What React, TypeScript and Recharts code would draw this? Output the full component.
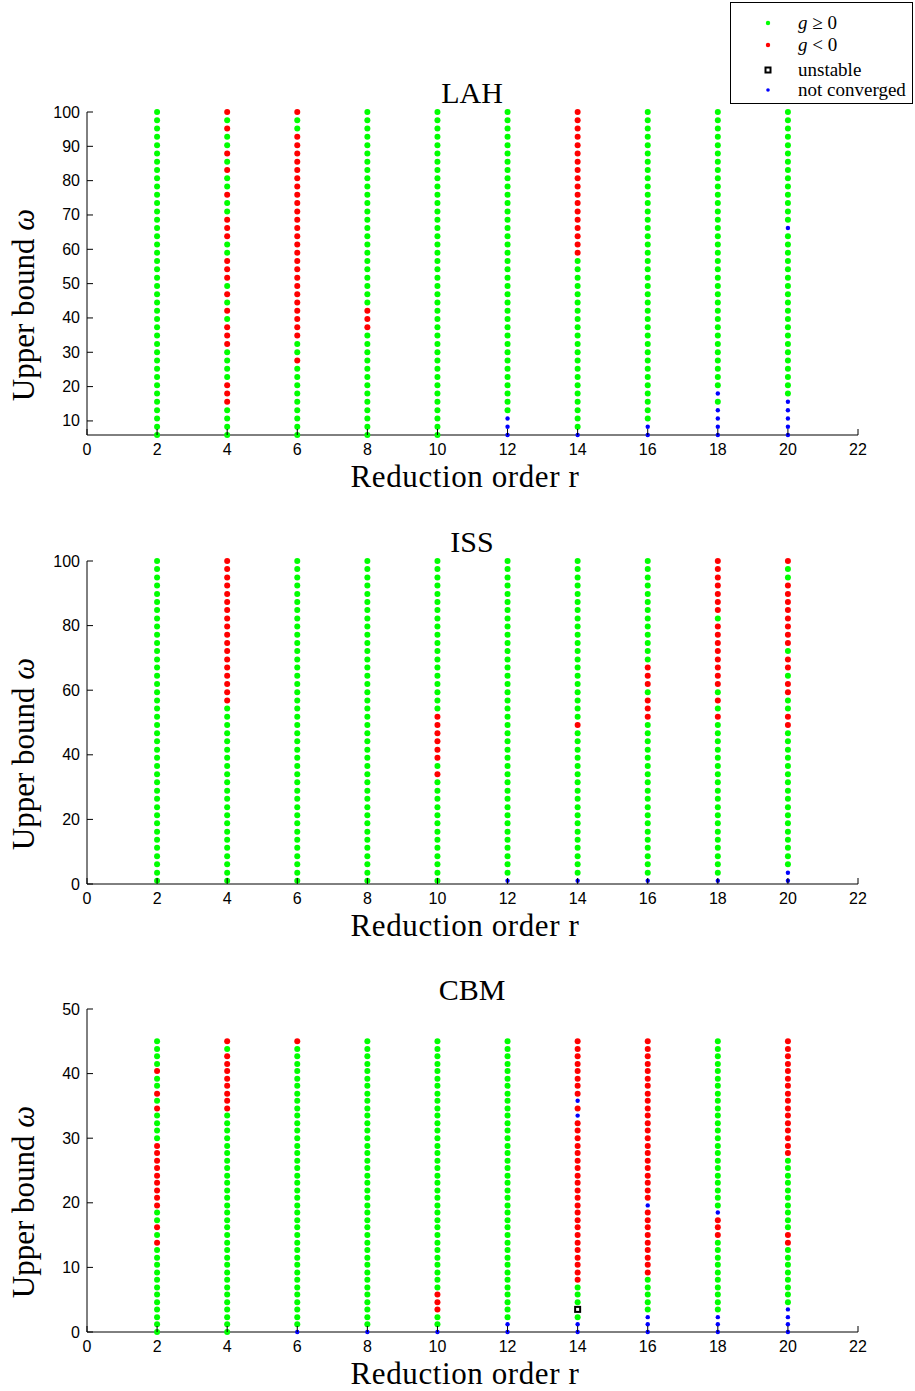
import React from 'react';
import { ScatterChart, Scatter, XAxis, YAxis } from 'recharts';

// x positions (reduction order r) and axis ticks
const R_ORDERS = [2, 4, 6, 8, 10, 12, 14, 16, 18, 20];
const X_TICKS = [0, 2, 4, 6, 8, 10, 12, 14, 16, 18, 20, 22];

// omega grids, top (largest) to bottom
const LAH_OMEGA = [
  100.0, 97.6, 95.2, 92.8, 90.3, 87.9, 85.5, 83.1, 80.7, 78.3,
  75.9, 73.5, 71.0, 68.6, 66.2, 63.8, 61.4, 59.0, 56.6, 54.2,
  51.7, 49.3, 46.9, 44.5, 42.1, 39.7, 37.3, 34.9, 32.4, 30.0,
  27.6, 25.2, 22.8, 20.4, 18.0, 15.6, 13.1, 10.7, 8.3, 5.9,
];
const ISS_OMEGA = [
  100.0, 97.5, 94.9, 92.4, 89.8, 87.3, 84.8, 82.2, 79.7, 77.2,
  74.6, 72.1, 69.5, 67.0, 64.5, 61.9, 59.4, 56.8, 54.3, 51.8,
  49.2, 46.7, 44.2, 41.6, 39.1, 36.5, 34.0, 31.5, 28.9, 26.4,
  23.8, 21.3, 18.8, 16.2, 13.7, 11.2, 8.6, 6.1, 3.5, 1.0,
];
const CBM_OMEGA = [
  45.0, 43.8, 42.7, 41.5, 40.4, 39.2, 38.1, 36.9, 35.8, 34.6,
  33.5, 32.3, 31.2, 30.0, 28.8, 27.7, 26.5, 25.4, 24.2, 23.1,
  21.9, 20.8, 19.6, 18.5, 17.3, 16.2, 15.0, 13.8, 12.7, 11.5,
  10.4, 9.2, 8.1, 6.9, 5.8, 4.6, 3.5, 2.3, 1.2, 0.0,
];

// status per column (r = 2..20), top to bottom
// G: g >= 0, R: g < 0, U: unstable, B: not converged
const LAH_STATUS = [
  'GGGGGGGGGG GGGGGGGGGG GGGGGGGGGG GGGGGGGGGG',
  'RGRGGRGRGG RGGRRRGGRR RGRGRGRRRG GGGRRRGGGG',
  'RGGRRRRRRR RRRRRRRRRR RRRRRRRRGG RGGGGGGGGG',
  'GGGGGGGGGG GGGGGGGGGG GGGGRRRGGG GGGGGGGGGG',
  'GGGGGGGGGG GGGGGGGGGG GGGGGGGGGG GGGGGGGGGG',
  'GGGGGGGGGG GGGGGGGGGG GGGGGGGGGG GGGGGGGBBB',
  'RRRRRRRRRR RRRRRRRRGG GGGGGGGGGG GGGGGGGGGB',
  'GGGGGGGGGG GGGGGGGGGG GGGGGGGGGG GGGGGGGGBB',
  'GGGGGGGGGG GGGGGGGGGG GGGGGGGGGG GGGGBGBBBB',
  'GGGGGGGGGG GGGGBGGGGG GGGGGGGGGG GGGGGBBBBB',
];
const ISS_STATUS = [
  'GGGGGGGGGG GGGGGGGGGG GGGGGGGGGG GGGGGGGGGG',
  'RRRRRRRRRR RRRRRRRRGG GGGGGGGGGG GGGGGGGGGG',
  'GGGGGGGGGG GGGGGGGGGG GGGGGGGGGG GGGGGGGGGG',
  'GGGGGGGGGG GGGGGGGGGG GGGGGGGGGG GGGGGGGGGG',
  'GGGGGGGGGG GGGGGGGGGR RRRRRGRGGG GGGGGGGGGG',
  'GGGGGGGGGG GGGGGGGGGG GGGGGGGGGG GGGGGGGGGB',
  'GGGGGGGGGG GGGGGGGGGG RGGGGGGGGG GGGGGGGGGB',
  'GGGGGGGGGG GGGRRRGRRR GGGGGGGGGG GGGGGGGGGB',
  'RRRRRRRGRR RRRRRRGRGR GGGGGGGGGG GGGGGGGGGB',
  'RGGRRRRRRR RGRRGRRGGR RGGGGGGGGG GGGGGGGGBB',
];
const CBM_STATUS = [
  'GGGGRGGRGR GGGGRRRRRR RRRGGRGRGG GGGGGGGGGG',
  'RGRRRRRRRR GGGGGGGGGG GGGGGGGGGG GGGGGGGGGG',
  'RGGGGGGGGG GGGGGGGGGG GGGGGGGGGG GGGGGGGGGB',
  'GGGGGGGGGG GGGGGGGGGG GGGGGGGGGG GGGGGGGGGB',
  'GGGGGGGGGG GGGGGGGGGG GGGGGGGGGG GGGGRRRGGB',
  'GGGGGGGGGG GGGGGGGGGG GGGGGGGGGG GGGGGGGGBB',
  'RRRRRRRRBR BRRRRRRRRR RRRRRRRRRR RRRGGGUGBB',
  'RRRRRRRRRR RRRRRRRRRR RRBRRRRRRR RRGGGGGBBB',
  'GGGGGGGGGG GGGGGGGGGG GGGBRRRGGG GGGGGGGBBB',
  'RRRRRRRRRR RRRRRRGGGG GGGGGGRRGG GGGGGGBBBB',
];

const LAH_TICKS = [10, 20, 30, 40, 50, 60, 70, 80, 90, 100];
const ISS_TICKS = [0, 20, 40, 60, 80, 100];
const CBM_TICKS = [0, 10, 20, 30, 40, 50];

const SERIF = '"Liberation Serif", "Times New Roman", serif';
const SANS = '"Liberation Sans", Arial, sans-serif';

const XTick = (props: any) => {
  const { x, y, payload } = props;
  return (
    <g>
      <line x1={x} x2={x} y1={y} y2={y - 6} stroke="#000" />
      <text x={x} y={y + 20} textAnchor="middle" fontFamily={SANS} fontSize={16} fill="#000">
        {payload.value}
      </text>
    </g>
  );
};

const YTick = (props: any) => {
  const { x, y, payload } = props;
  return (
    <g>
      <line x1={x} x2={x + 6} y1={y} y2={y} stroke="#000" />
      <text x={x - 7} y={y + 5.5} textAnchor="end" fontFamily={SANS} fontSize={16} fill="#000">
        {payload.value}
      </text>
    </g>
  );
};

const dot = (color: string, r: number) => (p: any) => (
  <circle cx={p.cx} cy={p.cy} r={r} fill={color} />
);
const square = (p: any) => (
  <rect x={p.cx - 2.5} y={p.cy - 2.5} width={5} height={5} fill="#fff" stroke="#000" strokeWidth={2} />
);

interface PanelProps {
  title: string;
  omega: number[];
  status: string[];
  yDomain: [number, number];
  yTicks: number[];
  top: number;
}

const Panel = ({ title, omega, status, yDomain, yTicks, top }: PanelProps) => {
  const series: Record<string, { r: number; w: number }[]> = { G: [], R: [], U: [], B: [] };
  R_ORDERS.forEach((r, c) => {
    const s = status[c].replace(/ /g, '');
    omega.forEach((w, i) => series[s[i]].push({ r, w }));
  });

  return (
    <div style={{ position: 'absolute', left: 0, top }}>
      <ScatterChart width={915} height={500} margin={{ top: 112, right: 57, bottom: 25, left: 37 }}>
        <XAxis
          type="number"
          dataKey="r"
          domain={[0, 22]}
          ticks={X_TICKS}
          interval={0}
          tickSize={0}
          tickMargin={0}
          tick={(p: any) => <XTick {...p} />}
          height={40}
          stroke="#000"
        />
        <YAxis
          type="number"
          dataKey="w"
          domain={yDomain}
          ticks={yTicks}
          interval={0}
          tickSize={0}
          tickMargin={0}
          tick={(p: any) => <YTick {...p} />}
          width={50}
          stroke="#000"
        />
        <Scatter data={series.G} shape={dot('#00ff00', 3)} isAnimationActive={false} />
        <Scatter data={series.R} shape={dot('#ff0000', 3)} isAnimationActive={false} />
        <Scatter data={series.U} shape={square} isAnimationActive={false} />
        <Scatter data={series.B} shape={dot('#0000ff', 2.2)} isAnimationActive={false} />
        <text x={472} y={103} textAnchor="middle" fontFamily={SERIF} fontSize={30} fill="#000">
          {title}
        </text>
        <text
          x={465}
          y={487}
          textAnchor="middle"
          fontFamily={SERIF}
          fontSize={31}
          letterSpacing={0.6}
          fill="#000"
        >
          Reduction order r
        </text>
        <text
          x={34}
          y={305}
          transform="rotate(-90 34 305)"
          textAnchor="middle"
          fontFamily={SERIF}
          fontSize={31}
          fill="#000"
        >
          Upper bound <tspan fontStyle="italic">ω</tspan>
        </text>
      </ScatterChart>
    </div>
  );
};

const LegendBox = () => {
  const rows = [
    { y: 22, marker: <circle cx={6} cy={6} r={2.2} fill="#00ff00" />, label: <><i>g</i> ≥ 0</> },
    { y: 44, marker: <circle cx={6} cy={6} r={2.2} fill="#ff0000" />, label: <><i>g</i> &lt; 0</> },
    {
      y: 69,
      marker: <rect x={3.5} y={3.5} width={5} height={5} fill="#fff" stroke="#000" strokeWidth={2} />,
      label: <>unstable</>,
    },
    { y: 89, marker: <circle cx={6} cy={6} r={1.8} fill="#0000ff" />, label: <>not converged</> },
  ];
  return (
    <div
      style={{
        position: 'absolute',
        left: 730,
        top: 2,
        width: 181,
        height: 100,
        border: '1px solid #000',
        background: '#fff',
      }}
    >
      {rows.map((row, i) => (
        <div key={i} style={{ position: 'absolute', left: 0, top: row.y - 2 - 12, height: 24, width: 181 }}>
          <svg width={12} height={12} style={{ position: 'absolute', left: 31, top: 6 }}>
            {row.marker}
          </svg>
          <span
            style={{
              position: 'absolute',
              left: 67,
              top: 0,
              lineHeight: '24px',
              fontFamily: SERIF,
              fontSize: 19,
              whiteSpace: 'nowrap',
              color: '#000',
            }}
          >
            {row.label}
          </span>
        </div>
      ))}
    </div>
  );
};

export default function App() {
  return (
    <div style={{ position: 'absolute', left: 0, top: 0, width: 915, height: 1391, background: '#fff' }}>
      <Panel title="LAH" omega={LAH_OMEGA} status={LAH_STATUS} yDomain={[5.9, 100]} yTicks={LAH_TICKS} top={0} />
      <Panel title="ISS" omega={ISS_OMEGA} status={ISS_STATUS} yDomain={[0, 100]} yTicks={ISS_TICKS} top={449} />
      <Panel title="CBM" omega={CBM_OMEGA} status={CBM_STATUS} yDomain={[0, 50]} yTicks={CBM_TICKS} top={897} />
      <LegendBox />
    </div>
  );
}
